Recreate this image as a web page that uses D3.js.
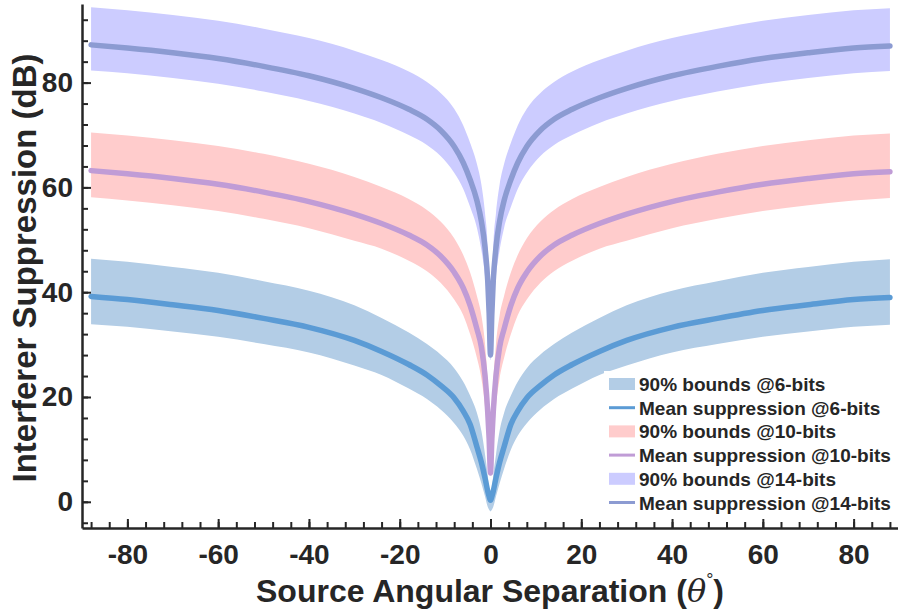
<!DOCTYPE html>
<html>
<head>
<meta charset="utf-8">
<script src="https://cdn.jsdelivr.net/npm/d3@7"></script>
<style>
  html, body { margin: 0; padding: 0; background: #fff; }
  svg { display: block; }
  text { font-family: "Liberation Sans", Arial, Helvetica, sans-serif; font-weight: bold; fill: #262626; }
</style>
</head>
<body>
<svg id="chart" width="898" height="613"></svg>
<script>
// ---- data ----
const angles = [-88,-80,-70,-60,-50,-40,-30,-24,-18,-14,-11,-8,-6,-4.5,-3,-2,-1.2,-0.6,-0.3,0,
                0.3,0.6,1.2,2,3,4.5,6,8,11,14,18,24,30,40,50,60,70,80,88];

const mean6  = [39.2,38.6,37.6,36.5,35.0,33.3,30.8,28.7,26.2,24.2,22.2,19.8,17.3,14.8,10.5,7.5,4.5,2.0,1.0,0.3,
                1.0,2.0,4.5,7.5,10.5,14.8,17.3,19.8,22.2,24.2,26.2,28.7,30.8,33.3,35.0,36.5,37.6,38.6,39.0];
const lower6 = [33.9,33.4,32.5,31.5,30.1,28.5,26.0,24.2,21.6,19.6,17.6,15.0,12.6,10.0,6.3,3.5,1.0,-1.0,-1.5,-1.8,
                -1.5,-1.0,1.0,3.5,6.3,10.0,12.6,15.0,17.6,19.6,21.6,24.2,26.0,28.5,30.1,31.5,32.5,33.4,33.8];
const upper6 = [46.4,45.8,44.8,43.7,42.1,40.3,37.5,35.1,32.3,30.1,28.1,25.5,22.9,20.3,17.0,13.5,9.0,5.0,2.5,1.5,
                2.5,5.0,9.0,13.5,17.0,20.3,22.9,25.5,28.1,30.1,32.3,35.1,37.5,40.3,42.1,43.7,44.8,45.8,46.3];

const mean10  = [63.2,62.6,61.7,60.6,59.1,57.3,54.9,53.1,50.9,49.0,46.9,43.8,40.8,37.5,33.0,29.5,24.0,17.0,12.0,5.5,
                 12.0,17.0,24.0,29.5,33.0,37.5,40.8,43.8,46.9,49.0,50.9,53.1,54.9,57.3,59.1,60.6,61.7,62.6,63.0];
const lower10 = [58.1,57.5,56.6,55.5,54.0,52.2,49.8,48.3,46.0,44.0,41.8,38.6,35.6,32.0,27.5,23.5,18.0,11.0,7.0,5.0,
                 7.0,11.0,18.0,23.5,27.5,32.0,35.6,38.6,41.8,44.0,46.0,48.3,49.8,52.2,54.0,55.5,56.6,57.5,58.0];
const upper10 = [70.5,69.9,69.0,67.9,66.4,64.5,62.0,60.1,57.8,55.7,53.5,50.3,47.1,43.8,39.3,35.5,30.0,22.5,16.0,6.0,
                 16.0,22.5,30.0,35.5,39.3,43.8,47.1,50.3,53.5,55.7,57.8,60.1,62.0,64.5,66.4,67.9,69.0,69.9,70.3];

const mean14  = [87.2,86.6,85.7,84.6,83.1,81.3,78.9,77.1,74.9,73.0,70.9,67.8,64.7,61.5,57.5,53.5,48.5,42.0,36.0,28.0,
                 36.0,42.0,48.5,53.5,57.5,61.5,64.7,67.8,70.9,73.0,74.9,77.1,78.9,81.3,83.1,84.6,85.7,86.6,87.0];
const lower14 = [82.3,81.8,80.9,79.8,78.3,76.5,74.1,72.3,70.0,68.1,66.0,62.8,59.7,56.3,52.3,48.0,43.0,36.5,31.0,27.0,
                 31.0,36.5,43.0,48.0,52.3,56.3,59.7,62.8,66.0,68.1,70.0,72.3,74.1,76.5,78.3,79.8,80.9,81.8,82.2];
const upper14 = [94.4,93.8,92.9,91.8,90.3,88.5,86.1,84.3,82.1,80.1,78.0,75.0,71.8,68.5,64.5,60.5,55.0,48.5,40.0,29.0,
                 40.0,48.5,55.0,60.5,64.5,68.5,71.8,75.0,78.0,80.1,82.1,84.3,86.1,88.5,90.3,91.8,92.9,93.8,94.2];

const xMajorTicks = [-80,-60,-40,-20,0,20,40,60,80];
const xMinorTicks = d3.range(-88, 89, 4);
const yMajorTicks = [0,20,40,60,80];
const yMinorTicks = d3.range(-4, 93, 4);

const seriesNames = ["6-bits","10-bits","14-bits"];
const bandColors = ["#b3cde6","#ffcccc","#ccccff"];
const lineColors = ["#5b9bd5","#c09cd6","#8c9bd2"];

// ---- layout ----
const svg = d3.select("#chart");
const x = d3.scaleLinear().domain([-90, 90]).range([82, 899]);
const y = d3.scaleLinear().domain([-5, 95]).range([528, 4]);

const bands = [[lower6, upper6],[lower10, upper10],[lower14, upper14]];
const means = [mean6, mean10, mean14];

const area = d3.area()
  .x(d => x(d.a)).y0(d => y(d.lo)).y1(d => y(d.hi))
  .curve(d3.curveMonotoneX);
const line = d3.line()
  .x(d => x(d.a)).y(d => y(d.v))
  .curve(d3.curveMonotoneX);

bands.forEach((b, i) => {
  const data = angles.map((a, k) => ({a, lo: b[0][k], hi: b[1][k]}));
  svg.append("path").datum(data).attr("d", area).attr("fill", bandColors[i]);
});
means.forEach((m, i) => {
  const data = angles.map((a, k) => ({a, v: m[k]}));
  svg.append("path").datum(data).attr("d", line)
    .attr("fill", "none").attr("stroke", lineColors[i])
    .attr("stroke-width", 5.5).attr("stroke-linecap", "round").attr("stroke-linejoin", "round");
});

// ---- axes ----
const axisColor = "#262626";
const fmt = d => String(d);
const gx = svg.append("g").attr("transform", `translate(0,${y(-5)})`);
gx.call(d3.axisBottom(x).tickValues(xMinorTicks).tickSize(-6).tickSizeOuter(0).tickFormat(""));
gx.call(g => g.select(".domain").remove());
const gx2 = svg.append("g").attr("transform", `translate(0,${y(-5)})`);
gx2.call(d3.axisBottom(x).tickValues(xMajorTicks).tickSize(-9).tickSizeOuter(0).tickPadding(16).tickFormat(fmt));
gx2.select(".domain").attr("stroke-width", 2.5);
gx2.selectAll(".tick text").attr("font-size", 28).attr("fill", axisColor)
  .style("font-family", "'Liberation Sans', Arial, sans-serif").style("font-weight", "bold");

const gy = svg.append("g").attr("transform", `translate(${x(-90)},0)`);
gy.call(d3.axisLeft(y).tickValues(yMinorTicks).tickSize(-6).tickSizeOuter(0).tickFormat(""));
gy.call(g => g.select(".domain").remove());
const gy2 = svg.append("g").attr("transform", `translate(${x(-90)},0)`);
gy2.call(d3.axisLeft(y).tickValues(yMajorTicks).tickSize(-9).tickSizeOuter(0).tickPadding(9).tickFormat(fmt));
gy2.select(".domain").attr("stroke-width", 2.5);
gy2.selectAll(".tick text").attr("font-size", 28).attr("fill", axisColor)
  .style("font-family", "'Liberation Sans', Arial, sans-serif").style("font-weight", "bold");
svg.selectAll(".tick line").attr("stroke", axisColor).attr("stroke-width", 2);
svg.selectAll(".domain").attr("stroke", axisColor);

// ---- axis titles ----
const xt = svg.append("text").attr("x", 490).attr("y", 602).attr("text-anchor", "middle")
  .attr("font-size", 32);
xt.append("tspan").text("Source Angular Separation (");
xt.append("tspan").attr("font-style", "italic").attr("font-weight", "normal").style("font-family", "'DejaVu Serif', serif").text("θ");
xt.append("tspan").attr("dy", -16).attr("font-size", 18).attr("font-weight", "normal").text("°");
xt.append("tspan").attr("dy", 16).text(")");

svg.append("text").attr("transform", "translate(36,268) rotate(-90)")
  .attr("text-anchor", "middle").attr("font-size", 33).text("Interferer Suppression (dB)");

// ---- legend ----
const lg = svg.append("g");
lg.append("rect").attr("x", 604).attr("y", 371).attr("width", 294).attr("height", 145).attr("fill", "#fff");
const legendItems = [];
seriesNames.forEach((s, i) => {
  legendItems.push({type: "band", color: bandColors[i], label: `90% bounds @${s}`});
  legendItems.push({type: "line", color: lineColors[i], label: `Mean suppression @${s}`});
});
legendItems.forEach((it, k) => {
  const cy = 384 + k * 23.7;
  if (it.type === "band") {
    lg.append("rect").attr("x", 609).attr("y", cy - 6).attr("width", 26).attr("height", 12).attr("fill", it.color);
  } else {
    lg.append("line").attr("x1", 609).attr("x2", 635).attr("y1", cy).attr("y2", cy)
      .attr("stroke", it.color).attr("stroke-width", 3);
  }
  lg.append("text").attr("x", 639).attr("y", cy + 7).attr("font-size", 19).attr("fill", "#111").text(it.label);
});
</script>
</body>
</html>
